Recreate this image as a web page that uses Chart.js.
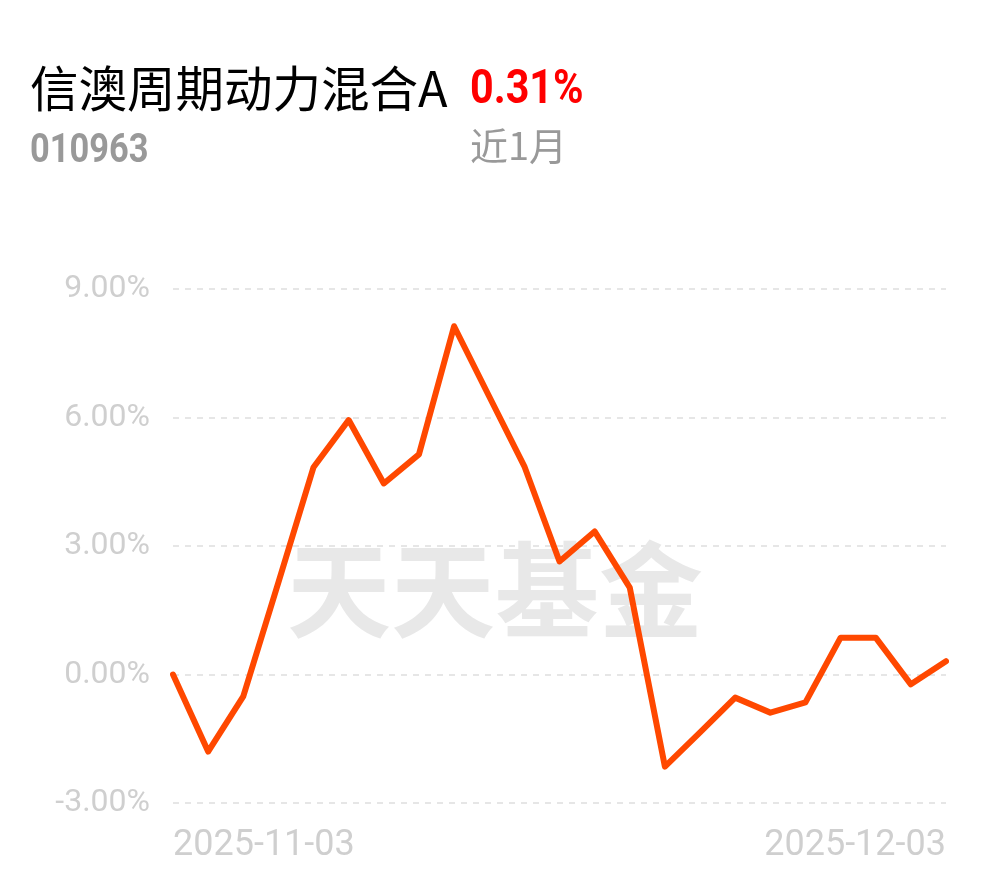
<!DOCTYPE html>
<html>
<head>
<meta charset="utf-8">
<script src="https://cdn.jsdelivr.net/npm/chart.js@4"></script>
<style>
  html, body { margin: 0; padding: 0; background: #fff; }
  #wrap { position: relative; width: 990px; height: 878px; overflow: hidden; }
  #c { position: absolute; left: 0; top: 0; }
  .t { position: absolute; white-space: nowrap; line-height: 1; transform-origin: 0 0; }
  #title { left: 30px; top: 51px; font: 48.5px "Noto Sans CJK SC"; color: #000; }
  #ret { left: 470px; top: 58px; font: bold 48px "Roboto"; color: #f00; transform: scaleX(0.86); }
  #code { left: 30px; top: 124px; font: bold 41px "Roboto"; color: #999; transform: scaleX(0.84); }
  #period { left: 470px; top: 116px; font: 38px "Noto Sans CJK SC"; color: #999; }
</style>
</head>
<body>
<div id="wrap">
  <canvas id="c" width="990" height="878"></canvas>
  <div class="t" id="title">信澳周期动力混合A</div>
  <div class="t" id="ret">0.31%</div>
  <div class="t" id="code">010963</div>
  <div class="t" id="period">近1月</div>
</div>
<script>
const dates = [
  "2025-11-03","2025-11-04","2025-11-05","2025-11-06","2025-11-07",
  "2025-11-10","2025-11-11","2025-11-12","2025-11-13","2025-11-14",
  "2025-11-17","2025-11-18","2025-11-19","2025-11-20","2025-11-21",
  "2025-11-24","2025-11-25","2025-11-26","2025-11-27","2025-11-28",
  "2025-12-01","2025-12-02","2025-12-03"
];
const returns = [
  0.00, -1.80, -0.51, 2.15, 4.84,
  5.94, 4.46, 5.14, 8.13, 6.49,
  4.86, 2.64, 3.34, 2.03, -2.15,
  -1.35, -0.54, -0.89, -0.65, 0.86,
  0.86, -0.23, 0.31
];
const yTicks = [-3, 0, 3, 6, 9];
const watermark = "天天基金";

const watermarkPlugin = {
  id: 'wm',
  beforeDatasetsDraw(chart) {
    const ctx = chart.ctx;
    ctx.save();
    ctx.font = 'bold 104px "Noto Sans CJK SC"';
    ctx.fillStyle = '#e8e8e8';
    ctx.textAlign = 'center';
    ctx.textBaseline = 'middle';
    ctx.fillText(watermark, 495, 590);
    ctx.restore();
  }
};

new Chart(document.getElementById('c'), {
  type: 'line',
  data: {
    labels: dates,
    datasets: [{
      data: returns,
      borderColor: '#ff4800',
      borderWidth: 6,
      borderJoinStyle: 'round',
      borderCapStyle: 'round',
      pointRadius: 0,
      tension: 0,
      fill: false
    }]
  },
  options: {
    responsive: false,
    animation: false,
    events: [],
    layout: { padding: { top: 289, right: 44, left: 0, bottom: 0 } },
    plugins: { legend: { display: false }, tooltip: { enabled: false } },
    scales: {
      x: {
        grid: { display: false, drawTicks: false },
        border: { display: false },
        afterFit(s) { s.height = 75; },
        ticks: {
          autoSkip: false,
          maxRotation: 0,
          align: 'inner',
          padding: 21,
          color: '#cfcfcf',
          font: { family: 'Roboto', size: 36 },
          callback(v, i) { return (i === 0 || i === dates.length - 1) ? dates[i] : ''; }
        }
      },
      y: {
        min: -3, max: 9,
        afterFit(s) { s.width = 173; },
        afterBuildTicks(s) { s.ticks = yTicks.map(v => ({ value: v })); },
        border: { display: false, dash: [6, 6] },
        grid: { color: '#e6e6e6', lineWidth: 2, drawTicks: false },
        ticks: {
          padding: 23,
          color: '#cfcfcf',
          font: { family: 'Roboto', size: 32 },
          callback(v) { return v.toFixed(2) + '%'; }
        }
      }
    }
  },
  plugins: [watermarkPlugin]
});
</script>
</body>
</html>
